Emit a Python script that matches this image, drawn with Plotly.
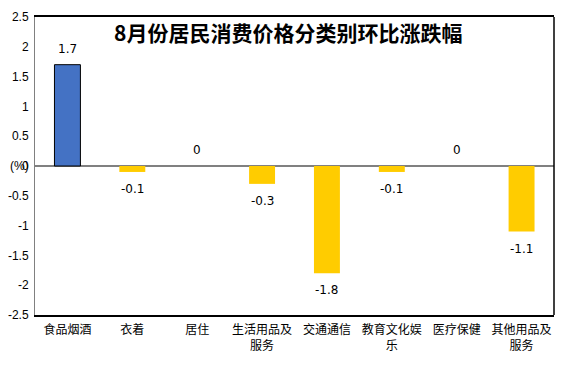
import plotly.graph_objects as go

categories = ["食品烟酒", "衣着", "居住", "生活用品及<br>服务", "交通通信", "教育文化娱<br>乐", "医疗保健", "其他用品及<br>服务"]
values = [1.7, -0.1, 0, -0.3, -1.8, -0.1, 0, -1.1]
bar_colors = ["#4472C4", "#FFCC00", "#FFCC00", "#FFCC00", "#FFCC00", "#FFCC00", "#FFCC00", "#FFCC00"]
line_widths = [1, 0, 0, 0, 0, 0, 0, 0]
y_ticks = [2.5, 2, 1.5, 1, 0.5, 0, -0.5, -1, -1.5, -2, -2.5]
title_text = "8月份居民消费价格分类别环比涨跌幅"

font_cn = "Noto Sans CJK SC"
font_num = "Liberation Sans"

fig = go.Figure()
fig.add_trace(go.Bar(
    x=categories, y=values,
    marker=dict(color=bar_colors, line=dict(color="black", width=line_widths)),
    width=0.4,
    hoverinfo="skip",
))

annotations = []
for c, v in zip(categories, values):
    annotations.append(dict(
        x=c, y=v, xref="x", yref="y",
        text=f"{v:g}", showarrow=False,
        yanchor="middle", yshift=16 if v >= 0 else -17,
        font=dict(family="DejaVu Sans", size=12, color="black"),
    ))
annotations.append(dict(
    x=-27 / 519, y=0, xref="paper", yref="y", xanchor="left", yanchor="middle",
    text="(%)", showarrow=False,
    font=dict(family=font_num, size=12, color="black"),
))
annotations.append(dict(
    x=0.487, y=1.0, xref="paper", yref="paper", xanchor="center", yanchor="top",
    yshift=2,
    text=f"<b>{title_text}</b>", showarrow=False,
    font=dict(family=font_cn, size=21, color="black"),
))

fig.update_layout(
    width=566, height=366,
    margin=dict(l=27, r=20, t=9, b=59, autoexpand=False),
    paper_bgcolor="white", plot_bgcolor="white",
    showlegend=False,
    annotations=annotations,
    xaxis=dict(
        automargin=False,
        showline=True, linecolor="black", linewidth=1.5, mirror=True,
        ticks="", tickfont=dict(family=font_cn, size=12, color="black"),
        showgrid=False, ticklabelstandoff=3,
    ),
    yaxis=dict(
        automargin=False, ticklabeloverflow="allow",
        range=[-2.5, 2.5], tickvals=y_ticks, ticktext=[f"{t:g}" for t in y_ticks],
        showline=True, linecolor="#808080", linewidth=1,
        ticks="", showgrid=False, ticklabelstandoff=3,
        zeroline=True, zerolinecolor="#808080", zerolinewidth=1.5,
        tickfont=dict(family=font_num, size=12, color="black"),
    ),
    shapes=[dict(type="line", xref="paper", yref="paper", x0=1, x1=1, y0=0, y1=1,
                 line=dict(color="black", width=1.5))],
)

fig.write_html("out.html")
